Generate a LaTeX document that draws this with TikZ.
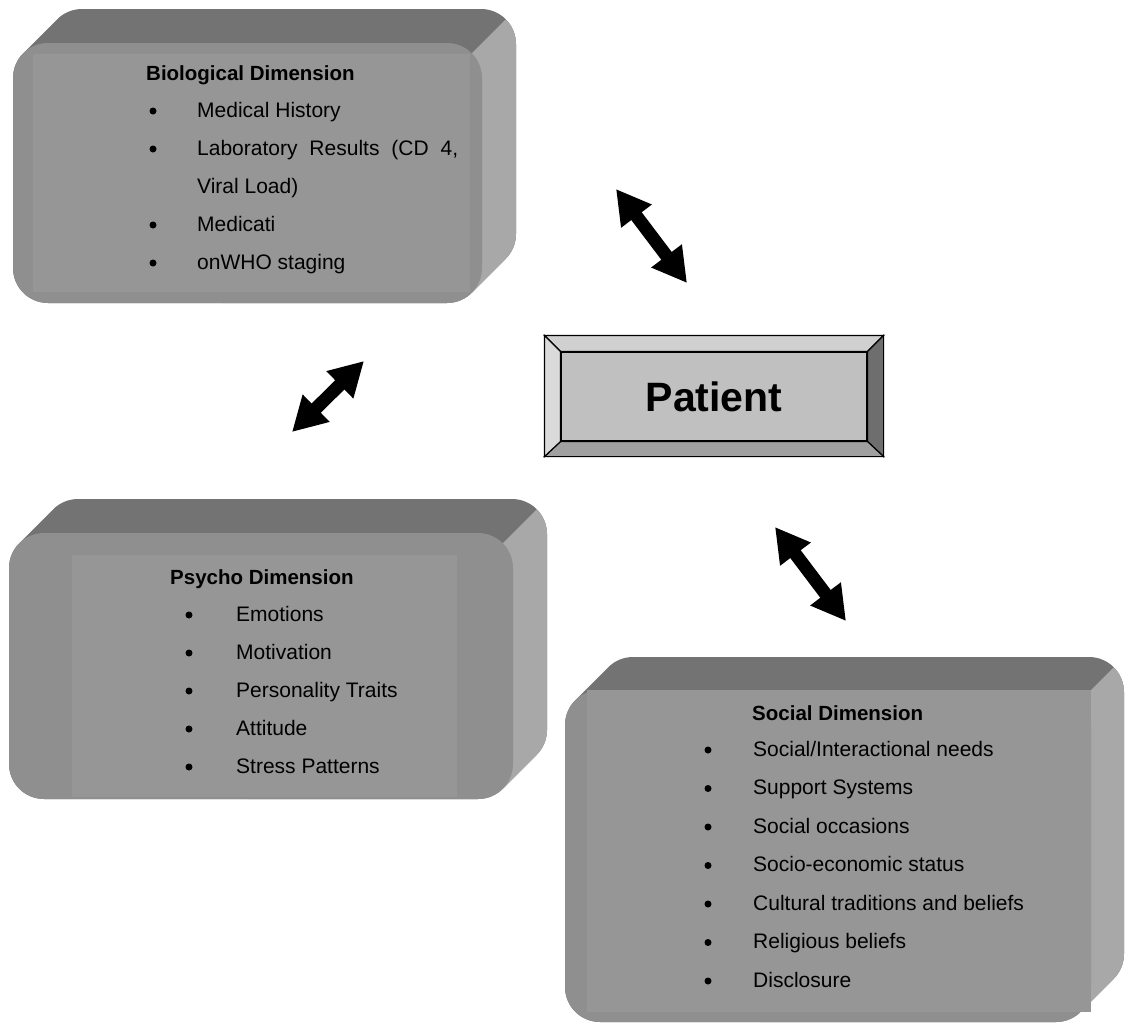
\documentclass[tikz,border=0pt]{standalone}
\usepackage{fontspec}
\setmainfont{Liberation Sans}
\usetikzlibrary{arrows.meta,calc}
\definecolor{topcol}{HTML}{737373}
\definecolor{sidecol}{HTML}{A8A8A8}
\definecolor{frontcol}{HTML}{8F8F8F}
\definecolor{innercol}{HTML}{969696}
\definecolor{bevtop}{HTML}{D0D0D0}
\definecolor{bevleft}{HTML}{DADADA}
\definecolor{bevright}{HTML}{6E6E6E}
\definecolor{bevbottom}{HTML}{A0A0A0}
\definecolor{bevface}{HTML}{C0C0C0}
\newcommand{\rr}{35}
% hull of a rounded front face (x0,y0)-(x1,y1) extruded by d up-right (y axis points down)
\newcommand{\hullpath}[5]{%
(#1,{#4-\rr}) -- (#1,{#2+\rr}) arc[start angle=180,end angle=225,radius=\rr]
-- ({#1+#5+\rr-0.7071*\rr},{#2-#5+\rr-0.7071*\rr}) arc[start angle=225,end angle=270,radius=\rr]
-- ({#3+#5-\rr},{#2-#5}) arc[start angle=270,end angle=360,radius=\rr]
-- ({#3+#5},{#4-#5-\rr}) arc[start angle=0,end angle=45,radius=\rr]
-- ({#3-\rr+0.7071*\rr},{#4-\rr+0.7071*\rr}) arc[start angle=45,end angle=90,radius=\rr]
-- ({#1+\rr},#4) arc[start angle=90,end angle=180,radius=\rr] -- cycle}
% #1..#4 front face, #5 depth, #6..#9 inner lighter panel
\newcommand{\dimbox}[9]{%
  \fill[topcol] \hullpath{#1}{#2}{#3}{#4}{#5};
  \begin{scope}
    \clip ({#3+#5+10},{#2-#5-10}) -- ({#3+#2-#4-10},{#4+10}) -- ({#3+#5+10},{#4+10}) -- cycle;
    \fill[sidecol] \hullpath{#1}{#2}{#3}{#4}{#5};
  \end{scope}
  \fill[frontcol, rounded corners=\rr] (#1,#2) rectangle (#3,#4);
  \fill[innercol] (#6,#7) rectangle (#8,#9);
}
\tikzset{
  item/.style={anchor=base west, inner sep=0pt, font=\fontsize{21}{25}\selectfont},
  bul/.style={circle, fill=black, inner sep=0pt, minimum size=7pt, yshift=6pt},
  ttl/.style={anchor=base west, inner sep=0pt, font=\fontsize{20.5}{25}\selectfont\bfseries},
  dbl/.style={line width=13pt, {Triangle[width=36pt,length=34pt]}-{Triangle[width=36pt,length=34pt]}},
  bevel/.style={draw=black, line width=1.2pt, line join=miter},
}
\begin{document}
\begin{tikzpicture}[x=1pt,y=-1pt]
\useasboundingbox (0,0) rectangle (1125,1023);

% ---------- Biological box ----------
\dimbox{13}{43}{482}{303}{34}{33}{54}{470}{292}
\node[ttl]  (bioT) at (146,80) {Biological Dimension};
\node[bul]  (bioB1) at (153,117) {};
\node[item] (bio1)  at (197,117) {Medical History};
\node[bul]  (bioB2) at (153,155) {};
\node[item] (bio2)  at (197,155) {\hbox to 261pt{Laboratory\hfil Results\hfil (CD\hfil 4,}};
\node[item] (bio2b) at (197,193) {Viral Load)};
\node[bul]  (bioB3) at (153,231) {};
\node[item] (bio3)  at (197,231) {Medicati};
\node[bul]  (bioB4) at (153,269) {};
\node[item] (bio4)  at (197,269) {onWHO staging};

% ---------- Psycho box ----------
\dimbox{9}{533}{513}{799}{34}{72}{555}{457}{797}
\node[ttl]  (psyT) at (170,584) {Psycho Dimension};
\node[bul]  (psyB1) at (189,621) {};
\node[item] (psy1)  at (236,621) {Emotions};
\node[bul]  (psyB2) at (189,659) {};
\node[item] (psy2)  at (236,659) {Motivation};
\node[bul]  (psyB3) at (189,697) {};
\node[item] (psy3)  at (236,697) {Personality Traits};
\node[bul]  (psyB4) at (189,735) {};
\node[item] (psy4)  at (236,735) {Attitude};
\node[bul]  (psyB5) at (189,773) {};
\node[item] (psy5)  at (236,773) {Stress Patterns};

% ---------- Social box ----------
\dimbox{565}{690}{1091}{1022}{33}{587}{690}{1091}{1012}
\node[ttl]  (socT) at (752,720) {Social Dimension};
\node[bul]  (socB1) at (708,756) {};
\node[item] (soc1)  at (753,756) {Social/Interactional needs};
\node[bul]  (socB2) at (708,794.5) {};
\node[item] (soc2)  at (753,794.5) {Support Systems};
\node[bul]  (socB3) at (708,833) {};
\node[item] (soc3)  at (753,833) {Social occasions};
\node[bul]  (socB4) at (708,871.5) {};
\node[item] (soc4)  at (753,871.5) {Socio-economic status};
\node[bul]  (socB5) at (708,910) {};
\node[item] (soc5)  at (753,910) {Cultural traditions and beliefs};
\node[bul]  (socB6) at (708,948.5) {};
\node[item] (soc6)  at (753,948.5) {Religious beliefs};
\node[bul]  (socB7) at (708,987) {};
\node[item] (soc7)  at (753,987) {Disclosure};

% ---------- Patient bevelled box ----------
\node[fill=bevface, draw=black, line width=1.2pt, minimum width=306pt, minimum height=89pt,
      inner sep=0pt, font=\fontsize{41}{48}\selectfont\bfseries] (patient) at (714,396.5) {Patient};
\coordinate (onw) at ($(patient.north west)+(-16,-16)$);
\coordinate (one) at ($(patient.north east)+(16,-16)$);
\coordinate (ose) at ($(patient.south east)+(16,15)$);
\coordinate (osw) at ($(patient.south west)+(-16,15)$);
\filldraw[bevel, fill=bevtop]    (onw) -- (one) -- (patient.north east) -- (patient.north west) -- cycle;
\filldraw[bevel, fill=bevright]  (one) -- (ose) -- (patient.south east) -- (patient.north east) -- cycle;
\filldraw[bevel, fill=bevbottom] (ose) -- (osw) -- (patient.south west) -- (patient.south east) -- cycle;
\filldraw[bevel, fill=bevleft]   (osw) -- (onw) -- (patient.north west) -- (patient.south west) -- cycle;

% ---------- double arrows ----------
\coordinate (a1s) at (616,189);
\coordinate (a1e) at (687,283);
\coordinate (a2s) at (292,432);
\coordinate (a2e) at (364,361);
\coordinate (a3s) at (775,527);
\coordinate (a3e) at (846,621);
\draw[dbl] (a1s) -- (a1e);
\draw[dbl] (a2s) -- (a2e);
\draw[dbl] (a3s) -- (a3e);
\end{tikzpicture}
\end{document}
